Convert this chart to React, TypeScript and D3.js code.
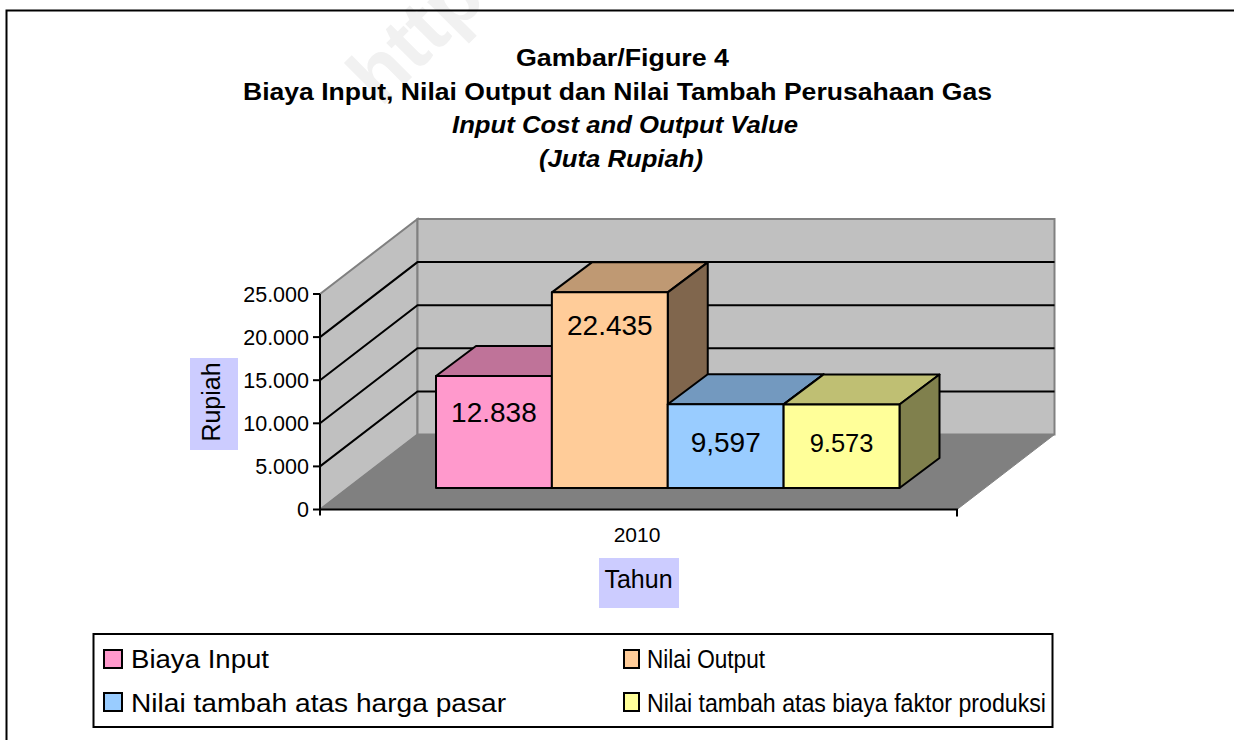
import React from "react";
import * as d3 from "d3";

const titleLines = [
  { text: "Gambar/Figure 4", italic: false, cx: 622.5, y: 66, len: 213 },
  { text: "Biaya Input, Nilai Output dan Nilai Tambah Perusahaan Gas", italic: false, cx: 617.5, y: 100, len: 749 },
  { text: "Input Cost and Output Value", italic: true, cx: 625, y: 133, len: 346 },
  { text: "(Juta Rupiah)", italic: true, cx: 621, y: 167, len: 164 },
];

const seriesNames = [
  "Biaya Input",
  "Nilai Output",
  "Nilai tambah atas harga pasar",
  "Nilai tambah atas biaya faktor produksi",
];
const seriesValues = [12838, 22435, 9597, 9573];
const valueLabels = ["12.838", "22.435", "9,597", "9.573"];
const labelSizes = [28, 28, 28, 25.5];
const labelOffsets = [46, 43, 47.5, 47.5];
const seriesColors = ["#FF99CC", "#FFCC99", "#99CCFF", "#FFFF99"];
const yTicks = [0, 5000, 10000, 15000, 20000, 25000];
const yTickLabels = ["0", "5.000", "10.000", "15.000", "20.000", "25.000"];
const gridTicks = [5000, 10000, 15000, 20000];
const year = "2010";

const width = 1234;
const height = 740;
const font = "'Liberation Sans', Arial, sans-serif";

// 3D box of the plot: front plane and how far the back wall is shifted
const axisX = 320;
const axisRight = 957;
const depth = { dx: 97.5, dy: -75 };
const barDepth = { dx: 40, dy: -30 };
const barBase = 488;

const y = d3.scaleLinear().domain([0, 25000]).range([509.5, 294]);
const barHeight = d3.scaleLinear().domain([0, 25000]).range([0, 218]);
const x = d3.scaleBand<string>().domain(seriesNames).range([436, 899.5]);

const shade = (c: string, k: number) => {
  const r = d3.rgb(c);
  return d3.rgb(r.r * k, r.g * k, r.b * k).formatHex();
};
const poly = (pts: [number, number][]) => (d3.line()(pts) || "") + "Z";

const legendRows = [
  { name: seriesNames[0], color: seriesColors[0], sx: 104, sw: 18, tx: 131, len: 138, y: 668, sy: 650, size: 25 },
  { name: seriesNames[1], color: seriesColors[1], sx: 624, sw: 15, tx: 647, len: 118, y: 668, sy: 650, size: 25 },
  { name: seriesNames[2], color: seriesColors[2], sx: 104, sw: 18, tx: 131, len: 375, y: 712, sy: 693, size: 25 },
  { name: seriesNames[3], color: seriesColors[3], sx: 624, sw: 15, tx: 647, len: 399, y: 712, sy: 693, size: 25 },
];

export default function App() {
  const backX0 = axisX + depth.dx;
  const backX1 = axisRight + depth.dx;
  const y0 = y(0);
  const yTop = y(25000);

  return (
    <svg
      width={width}
      height={height}
      viewBox={`0 0 ${width} ${height}`}
      style={{ position: "absolute", left: 0, top: 0, background: "#fff" }}
      fontFamily={font}
    >
      {/* watermark */}
      <text
        transform="translate(381,108) rotate(-45)"
        fontSize={80}
        fontWeight="bold"
        fill="#f1f1f1"
      >
        http
      </text>

      {/* page frame, only top and left edges are in view */}
      <path d={`M6.5,${height}V10.5H${width}`} fill="none" stroke="#000" strokeWidth={2} />

      {titleLines.map((t) => (
        <text
          key={t.text}
          x={t.cx}
          y={t.y}
          textAnchor="middle"
          fontSize={24}
          fontWeight="bold"
          fontStyle={t.italic ? "italic" : "normal"}
          textLength={t.len}
          lengthAdjust="spacingAndGlyphs"
        >
          {t.text}
        </text>
      ))}

      {/* walls and floor */}
      <path
        d={poly([
          [axisX, yTop],
          [backX0, yTop + depth.dy],
          [backX0, y0 + depth.dy],
          [axisX, y0],
        ])}
        fill="#C0C0C0"
        stroke="#808080"
        strokeWidth={2}
      />
      <rect
        x={backX0}
        y={yTop + depth.dy}
        width={backX1 - backX0}
        height={y0 - yTop}
        fill="#C0C0C0"
        stroke="#808080"
        strokeWidth={2}
      />
      <path
        d={poly([
          [axisX, y0],
          [backX0, y0 + depth.dy],
          [backX1, y0 + depth.dy],
          [axisRight, y0],
        ])}
        fill="#808080"
        stroke="#808080"
      />

      {/* gridlines on both walls */}
      {gridTicks.map((t) => (
        <path
          key={t}
          d={`M${axisX},${y(t)}L${backX0},${y(t) + depth.dy}H${backX1}`}
          fill="none"
          stroke="#000"
          strokeWidth={2}
        />
      ))}

      {/* bars, back faces first so the next bar covers them */}
      {seriesNames.map((name, i) => {
        const left = x(name) as number;
        const right = left + x.bandwidth();
        const top = barBase - barHeight(seriesValues[i]);
        const { dx, dy } = barDepth;
        return (
          <g key={name} stroke="#000" strokeWidth={2} strokeLinejoin="round">
            <path
              d={poly([
                [left, top],
                [left + dx, top + dy],
                [right + dx, top + dy],
                [right, top],
              ])}
              fill={shade(seriesColors[i], 0.75)}
            />
            <path
              d={poly([
                [right, top],
                [right + dx, top + dy],
                [right + dx, barBase + dy],
                [right, barBase],
              ])}
              fill={shade(seriesColors[i], 0.5)}
            />
            <rect x={left} y={top} width={x.bandwidth()} height={barBase - top} fill={seriesColors[i]} />
          </g>
        );
      })}
      {seriesNames.map((name, i) => (
        <text
          key={name}
          x={(x(name) as number) + x.bandwidth() / 2}
          y={barBase - barHeight(seriesValues[i]) + labelOffsets[i]}
          textAnchor="middle"
          fontSize={labelSizes[i]}
        >
          {valueLabels[i]}
        </text>
      ))}

      {/* axes */}
      <path d={`M${axisX},${yTop}V${y0 + 6}`} stroke="#000" strokeWidth={2} fill="none" />
      <path d={`M${axisX},${y0}H${axisRight}V${y0 + 7}`} stroke="#000" strokeWidth={2} fill="none" />
      {yTicks.map((t, i) => (
        <g key={t}>
          <line x1={axisX - 7} x2={axisX} y1={y(t)} y2={y(t)} stroke="#000" strokeWidth={2} />
          <text x={309} y={y(t) + 7.5} textAnchor="end" fontSize={21.5}>
            {yTickLabels[i]}
          </text>
        </g>
      ))}
      <text x={637} y={542} textAnchor="middle" fontSize={21}>
        {year}
      </text>

      {/* axis titles */}
      <rect x={599} y={558} width={80} height={50} fill="#CCCCFF" />
      <text x={638.5} y={587.5} textAnchor="middle" fontSize={25}>
        Tahun
      </text>
      <rect x={190} y={358} width={48} height={92} fill="#CCCCFF" />
      <text transform="translate(220,402) rotate(-90)" textAnchor="middle" fontSize={25}>
        Rupiah
      </text>

      {/* legend */}
      <rect x={93.5} y={634} width={959} height={93} fill="#fff" stroke="#000" strokeWidth={2} />
      {legendRows.map((r) => (
        <g key={r.name}>
          <rect x={r.sx} y={r.sy} width={r.sw} height={18} fill={r.color} stroke="#000" strokeWidth={2} />
          <text x={r.tx} y={r.y} fontSize={r.size} textLength={r.len} lengthAdjust="spacingAndGlyphs">
            {r.name}
          </text>
        </g>
      ))}
    </svg>
  );
}
